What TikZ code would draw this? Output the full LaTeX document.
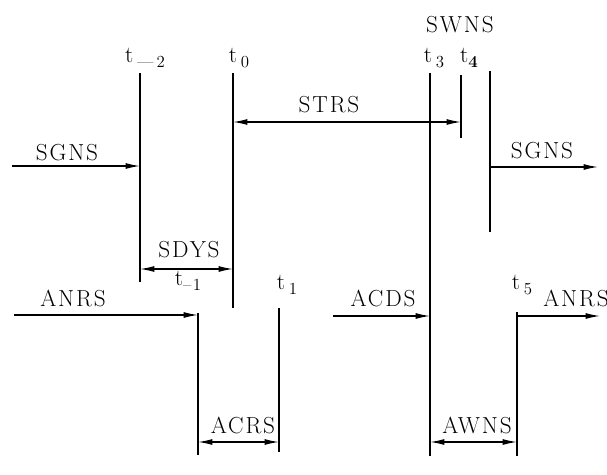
\documentclass[tikz,border=0pt]{standalone}
\usepackage{fontspec}
\setmainfont{Latin Modern Roman}[LetterSpace=8]
\usetikzlibrary{arrows.meta}

\newcommand{\tsub}[1]{\raisebox{-0.45ex}{\fontsize{12}{14}\selectfont #1}}

\begin{document}
\begin{tikzpicture}[x=0.025cm, y=-0.025cm,
                    stateline/.style={line width=1.8pt},
                    flow/.style={line width=0.9pt, -{Latex[length=3.6mm,width=1.5mm]}},
                    span/.style={line width=0.9pt, {Latex[length=3.6mm,width=1.5mm]}-{Latex[length=3.6mm,width=1.5mm]}},
                    lbl/.style={font=\fontsize{16.5}{19}\selectfont, inner sep=0pt},
                    tlbl/.style={font=\fontsize{16.5}{19}\selectfont, inner sep=0pt},
                   ]
  \useasboundingbox (0,0) rectangle (607,475);
  %Time lines
  \coordinate (m2top) at (140,73);  \coordinate (m2bot) at (140,282);
  \coordinate (t0top) at (233,73);  \coordinate (t0bot) at (233,308);
  \coordinate (acl_top) at (198,313); \coordinate (acl_bot) at (198,455);
  \coordinate (t1top) at (279,308); \coordinate (t1bot) at (279,452);
  \coordinate (t3top) at (430,73);  \coordinate (t3bot) at (430,456);
  \coordinate (t4top) at (461,75);  \coordinate (t4bot) at (461,138);
  \coordinate (swtop) at (490,71);  \coordinate (swbot) at (490,232);
  \coordinate (t5top) at (517,312); \coordinate (t5bot) at (517,456);
  \draw[stateline] (m2top) -- (m2bot);
  \draw[stateline] (t0top) -- (t0bot);
  \draw[stateline] (acl_top) -- (acl_bot);
  \draw[stateline] (t1top) -- (t1bot);
  \draw[stateline] (t3top) -- (t3bot);
  \draw[stateline] (t4top) -- (t4bot);
  \draw[stateline] (swtop) -- (swbot);
  \draw[stateline] (t5top) -- (t5bot);

  %Labels
  \node[tlbl] (tm2)  at (145,58) {t\,\tsub{—\,2}};
  \node[tlbl] (t0)   at (239,58) {t\,\tsub{0}};
  \node[tlbl] (t3)   at (434,58) {t\,\tsub{3}};
  \node[tlbl] (t4)   at (469,58) {t\tsub{\bfseries 4}};
  \node[tlbl] (tm1)  at (188,281) {t\tsub{–1}};
  \node[tlbl] (t1)   at (287,285) {t\,\tsub{1}};
  \node[tlbl] (t5)   at (522,285) {t\,\tsub{5}};
  \node[lbl]  (swns) at (460,25)  {SWNS};
  \node[lbl]  (strs) at (329,105) {STRS};
  \node[lbl]  (sgnsl) at (67,153) {SGNS};
  \node[lbl]  (sgnsr) at (542,151) {SGNS};
  \node[lbl]  (sdys) at (189,250) {SDYS};
  \node[lbl]  (anrsl) at (73,298) {ANRS};
  \node[lbl]  (acds) at (383,298) {ACDS};
  \node[lbl]  (anrsr) at (576,298) {ANRS};
  \node[lbl]  (acrs) at (243,425) {ACRS};
  \node[lbl]  (awns) at (477,425) {AWNS};

  %Arrows
  \coordinate (sgnsin)  at (12,166);
  \coordinate (sgnsout) at (598,167);
  \coordinate (anrsin)  at (14,315);
  \coordinate (acdsin)  at (333,316);
  \coordinate (anrsout) at (600,316);
  \draw[flow] (sgnsin) -- (sgnsin -| m2top);
  \draw[flow] (swtop |- sgnsout) -- (sgnsout);
  \draw[flow] (anrsin) -- (anrsin -| acl_top);
  \draw[flow] (acdsin) -- (acdsin -| t3top);
  \draw[flow] (t5top |- anrsout) -- (anrsout);
  \coordinate (strsy) at (0,122);
  \draw[span] (strsy -| t0top) -- (strsy -| t4top);
  \coordinate (sdysy) at (0,269);
  \draw[span] (sdysy -| m2top) -- (sdysy -| t0top);
  \coordinate (spany) at (0,442);
  \draw[span] (spany -| acl_top) -- (spany -| t1top);
  \draw[span] (spany -| t3top) -- (spany -| t5top);
\end{tikzpicture}
\end{document}
